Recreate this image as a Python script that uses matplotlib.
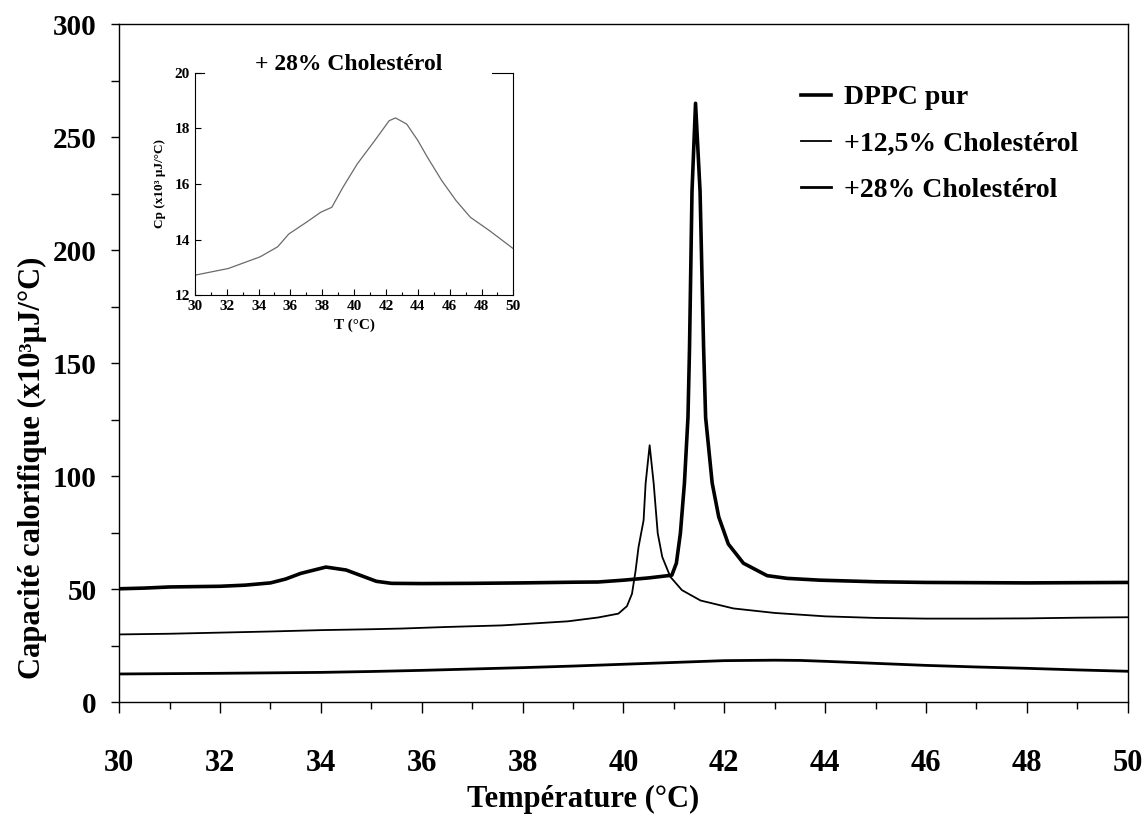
import matplotlib
matplotlib.use("Agg")
from matplotlib import pyplot as plt
from matplotlib.ticker import MultipleLocator

plt.rcParams["font.family"] = ["Liberation Serif", "DejaVu Serif"]
plt.rcParams["font.weight"] = "bold"

# --- thermogrammes DSC (T en °C, Cp en x10^3 µJ/°C) ---
t_dppc = [30, 30.5, 31, 32, 32.5, 33, 33.3, 33.6, 34.1, 34.5, 34.8, 35.1, 35.4,
          36, 37, 38, 39, 39.5, 40, 40.5, 40.96, 41.05, 41.13, 41.21, 41.28,
          41.31, 41.36, 41.43, 41.52, 41.59, 41.63, 41.76, 41.89, 42.08, 42.38,
          42.85, 43.25, 43.9, 45, 46, 47, 48, 49, 50]
cp_dppc = [50.2, 50.5, 51.0, 51.3, 51.8, 52.8, 54.5, 57.0, 59.8, 58.5, 56.0,
           53.5, 52.6, 52.5, 52.6, 52.8, 53.1, 53.2, 54.0, 55.0, 56.2, 61.5,
           74.8, 97.0, 126.0, 156.0, 226.0, 265.0, 226.0, 157.0, 126.0, 97.0,
           82.0, 70.0, 61.5, 56.0, 54.8, 54.0, 53.3, 53.0, 52.9, 52.8, 52.9, 53.0]

t_chol12 = [30, 31, 32, 33, 34, 35, 35.6, 36.5, 37.6, 38.9, 39.5, 39.9, 40.07,
            40.17, 40.24, 40.3, 40.4, 40.44, 40.52, 40.6, 40.68, 40.77, 40.93,
            41.16, 41.53, 42.18, 43, 44, 45, 46, 47, 48, 49, 50]
cp_chol12 = [30.0, 30.3, 30.8, 31.3, 31.9, 32.3, 32.6, 33.3, 34.0, 35.8, 37.5,
             39.2, 42.5, 48.0, 58.0, 68.7, 80.5, 96.8, 113.7, 96.8, 74.8, 64.3,
             55.5, 49.6, 45.0, 41.5, 39.5, 38.0, 37.3, 37.0, 37.0, 37.1, 37.4, 37.6]

t_chol28 = [30, 32, 34, 35, 36, 37, 38, 39, 40, 41, 42, 43, 43.5, 44, 45, 46,
            47, 48, 49, 50]
cp_chol28 = [12.5, 12.8, 13.2, 13.6, 14.1, 14.7, 15.3, 16.0, 16.8, 17.6, 18.4,
             18.6, 18.5, 18.1, 17.2, 16.3, 15.6, 15.0, 14.3, 13.7]

# agrandissement de la courbe +28 %
t_zoom = [30, 32.1, 34.1, 35.2, 35.9, 37.0, 37.9, 38.6, 39.3, 40.2, 41.3, 42.2,
          42.6, 43.3, 44.0, 44.6, 45.5, 46.4, 47.3, 48.5, 50.0]
cp_zoom = [12.72, 12.96, 13.38, 13.74, 14.2, 14.62, 14.98, 15.16, 15.88, 16.72,
           17.56, 18.27, 18.37, 18.15, 17.56, 16.96, 16.12, 15.4, 14.8, 14.32, 13.67]

labels = ["DPPC pur", "+12,5% Cholestérol", "+28% Cholestérol"]

fig = plt.figure(figsize=(11.46, 8.34), dpi=100)
ax = fig.add_axes([0.104, 0.158, 0.880, 0.813])

ax.plot(t_dppc, cp_dppc, color="black", lw=2.6, label=labels[0])
ax.plot(t_chol12, cp_chol12, color="black", lw=1.3, label=labels[1])
ax.plot(t_chol28, cp_chol28, color="black", lw=2.0, label=labels[2])

ax.set_xlim(30, 50)
ax.set_ylim(0, 300)
ax.xaxis.set_major_locator(MultipleLocator(2))
ax.xaxis.set_minor_locator(MultipleLocator(1))
ax.yaxis.set_major_locator(MultipleLocator(50))
ax.yaxis.set_minor_locator(MultipleLocator(25))
ax.tick_params(axis="x", which="major", direction="out", length=8, width=1,
               labelsize=22, pad=26)
ax.tick_params(axis="x", which="minor", direction="out", length=5, width=1)
ax.tick_params(axis="y", which="both", direction="out", length=6, width=1,
               labelsize=21, pad=10)
for lab in ax.get_xticklabels() + ax.get_yticklabels():
    lab.set_fontweight("bold")
for sp in ax.spines.values():
    sp.set_linewidth(1.0)

ax.set_xlabel("Température (°C)", fontsize=22, fontweight="bold")
ax.xaxis.set_label_coords(0.46, -0.122)
ax.set_ylabel("Capacité calorifique (x10³µJ/°C)", fontsize=22,
              fontweight="bold")
ax.yaxis.set_label_coords(-0.072, 0.345)

leg = ax.legend(loc="upper left", bbox_to_anchor=(0.665, 0.927), frameon=False,
                fontsize=20, handlelength=1.1, handletextpad=0.45,
                labelspacing=0.75, borderaxespad=0)
for txt in leg.get_texts():
    txt.set_fontweight("bold")

# encart : +28 % cholestérol
ins = fig.add_axes([0.170, 0.646, 0.278, 0.267])
ins.plot(t_zoom, cp_zoom, color="#6a6a6a", lw=0.9)
ins.set_xlim(30, 50)
ins.set_ylim(12, 20)
ins.xaxis.set_major_locator(MultipleLocator(2))
ins.xaxis.set_minor_locator(MultipleLocator(1))
ins.yaxis.set_major_locator(MultipleLocator(2))
ins.tick_params(axis="both", which="major", direction="in", length=4, width=0.8,
                labelsize=11)
ins.tick_params(axis="x", which="minor", direction="in", length=2.5, width=0.8)
for lab in ins.get_xticklabels() + ins.get_yticklabels():
    lab.set_fontweight("bold")
ins.set_xlabel("T (°C)", fontsize=11, fontweight="bold", labelpad=4)
ins.set_ylabel("Cp (x10³ µJ/°C)", fontsize=9.5, fontweight="bold", labelpad=6)

# bord supérieur interrompu par le titre
ins.spines["top"].set_visible(False)
for x0, x1 in [(0.0, 0.03), (0.934, 1.0)]:
    ins.plot([x0, x1], [1, 1], transform=ins.transAxes, color="black",
             lw=0.8, clip_on=False)
ins.text(0.483, 1.01, "+ 28% Cholestérol", transform=ins.transAxes,
         ha="center", va="baseline", fontsize=17, fontweight="bold")

fig.savefig("out.png", dpi=100)
